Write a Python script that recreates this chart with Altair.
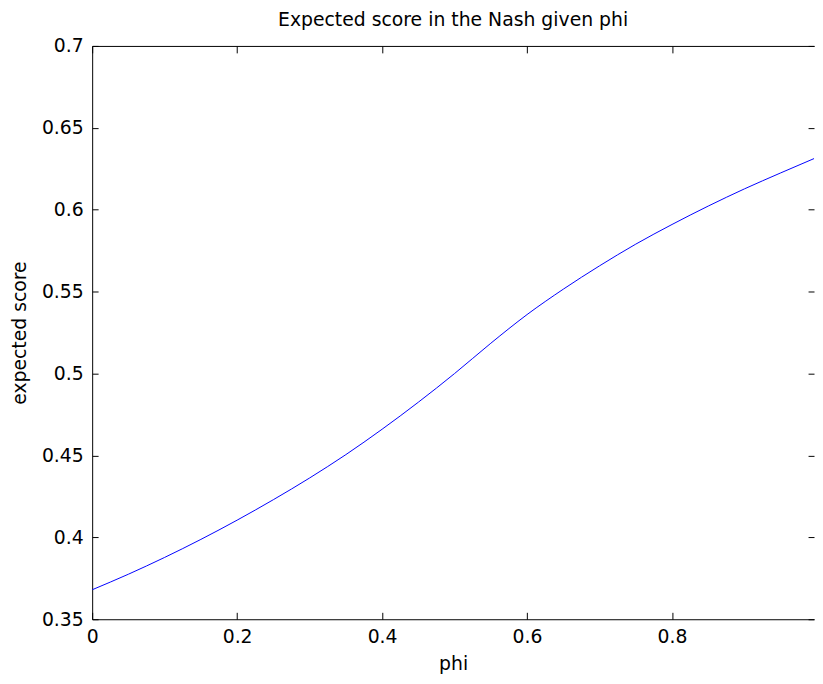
import altair as alt
import pandas as pd

# values
phi = [0.00, 0.05, 0.10, 0.15, 0.20, 0.25, 0.30, 0.35, 0.40, 0.45, 0.50,
       0.55, 0.60, 0.65, 0.70, 0.75, 0.80, 0.85, 0.90, 0.95, 1.00]
score = [0.368, 0.3775, 0.38775, 0.39875, 0.4105, 0.423, 0.43625, 0.4505, 0.466, 0.4825, 0.500,
         0.5185, 0.536, 0.5515, 0.56575, 0.579, 0.591, 0.60225, 0.61275, 0.6225, 0.632]

x_ticks = [0, 0.2, 0.4, 0.6, 0.8, 1.0]
y_ticks = [0.35, 0.4, 0.45, 0.5, 0.55, 0.6, 0.65, 0.7]

TITLE = "Expected score in the Nash given phi"
X_TITLE = "phi"
Y_TITLE = "expected score"

df = pd.DataFrame({"phi": phi, "score": score})

FONT = "DejaVu Sans"
FS = 19
W, H = 729, 579
XMAX = 0.9959  # right edge of the plot is cut off just before phi = 1

xscale = alt.Scale(domain=[0, XMAX], nice=False, zero=False)
yscale = alt.Scale(domain=[0.35, 0.7], nice=False, zero=False)

base = alt.Chart(df)

common = dict(grid=False, domainColor="black", tickColor="black", labelColor="black",
              titleColor="black", labelFont=FONT, titleFont=FONT, labelFontSize=FS,
              titleFontSize=FS, titleFontWeight="normal", domainWidth=1, tickWidth=1)

main = base.mark_line(color="#0000ff", strokeWidth=1, clip=True, interpolate="monotone").encode(
    x=alt.X("phi:Q", scale=xscale,
            axis=alt.Axis(orient="bottom", title=X_TITLE, values=x_ticks, format="~g",
                          ticks=False, tickSize=0, domain=True, labelPadding=8,
                          titlePadding=9, labelFlush=False, **common)),
    y=alt.Y("score:Q", scale=yscale,
            axis=alt.Axis(orient="left", title=Y_TITLE, values=y_ticks, format="~g",
                          ticks=False, tickSize=0, domain=True, labelPadding=9,
                          titlePadding=12, labelFlush=False, **common)),
)

ticks_in_bl = base.mark_line(opacity=0, clip=True).encode(
    x=alt.X("phi:Q", scale=xscale,
            axis=alt.Axis(orient="bottom", title=None, values=x_ticks, labels=False,
                          domain=False, ticks=True, tickSize=7, offset=-7, **common)),
    y=alt.Y("score:Q", scale=yscale,
            axis=alt.Axis(orient="left", title=None, values=y_ticks, labels=False,
                          domain=False, ticks=True, tickSize=6, offset=-6, **common)),
)

ticks_in_tr = base.mark_line(opacity=0, clip=True).encode(
    x=alt.X("phi:Q", scale=xscale,
            axis=alt.Axis(orient="top", title=None, values=x_ticks, labels=False,
                          domain=False, ticks=True, tickSize=7, offset=-7, **common)),
    y=alt.Y("score:Q", scale=yscale,
            axis=alt.Axis(orient="right", title=None, values=y_ticks, labels=False,
                          domain=False, ticks=True, tickSize=6, offset=-6, **common)),
)

top_line = base.mark_line(opacity=0, clip=True).encode(
    x=alt.X("phi:Q", scale=xscale,
            axis=alt.Axis(orient="top", title=None, values=x_ticks, labels=False,
                          domain=True, ticks=False, tickSize=0, offset=0, **common)),
    y=alt.Y("score:Q", scale=yscale, axis=None),
)

chart = alt.layer(main, ticks_in_bl, ticks_in_tr, top_line).resolve_axis(
    x="independent", y="independent"
).properties(
    width=W, height=H,
    title=alt.TitleParams(TITLE, font=FONT, fontSize=FS, fontWeight="normal",
                          color="black", anchor="middle", frame="group", offset=7),
    autosize=alt.AutoSizeParams(type="none"),
    padding={"left": 85, "top": 35, "right": 1, "bottom": 54},
    background="white",
).configure_view(stroke=None)

chart.save("out.html", embed_options={"renderer": "svg", "actions": False})
